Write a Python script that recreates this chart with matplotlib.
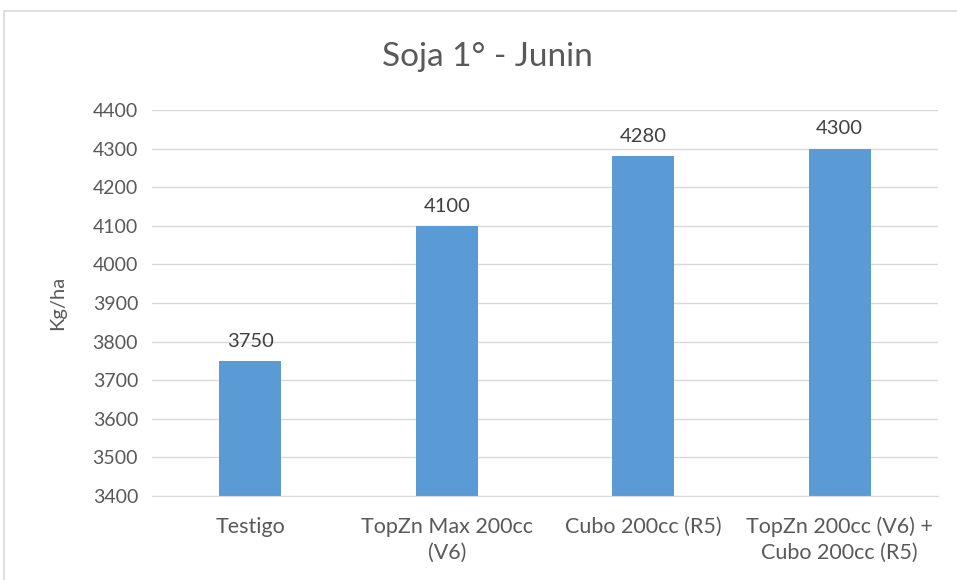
import matplotlib
matplotlib.use("Agg")
import matplotlib.pyplot as plt
from matplotlib.patches import Rectangle

categories = ["Testigo", "TopZn Max 200cc\n(V6)", "Cubo 200cc (R5)", "TopZn 200cc (V6) +\nCubo 200cc (R5)"]
values = [3750, 4100, 4280, 4300]
yticks = [3400, 3500, 3600, 3700, 3800, 3900, 4000, 4100, 4200, 4300, 4400]
title = "Soja 1° - Junin"
ylabel = "Kg/ha"

plt.rcParams['font.family'] = ['Lato', 'DejaVu Sans']
txt = '#595959'
W, H = 957, 580
fig = plt.figure(figsize=(W/100, H/100), dpi=100)
fig.patches.append(Rectangle((4/W, -0.1), 1.2, 1 - 11/H + 0.1, transform=fig.transFigure,
                             fill=False, edgecolor='#d9d9d9', linewidth=1.2))
ax = fig.add_axes([152/W, 1 - 496/H, (938-152)/W, (496-110)/H])
x = range(len(categories))
ax.bar(x, values, width=0.315, color='#5B9BD5', zorder=3)
ax.set_xlim(-0.5, len(categories) - 0.5)
ax.set_ylim(3400, 4400)
ax.set_yticks(yticks)
ax.set_yticklabels([str(v) for v in yticks], fontsize=14, color=txt)
ax.set_xticks(list(x))
ax.set_xticklabels(categories, fontsize=15.5, color=txt, linespacing=1.35)
ax.tick_params(axis='both', length=0, pad=10)
ax.tick_params(axis='x', pad=15)
ax.grid(axis='y', color='#d9d9d9', linewidth=1.0, zorder=0)
for s in ['top', 'right', 'left']:
    ax.spines[s].set_visible(False)
ax.spines['bottom'].set_color('#d9d9d9')
ax.spines['bottom'].set_zorder(4)
for xi, v in zip(x, values):
    ax.annotate(str(v), (xi, v), xytext=(0, 8), textcoords='offset points',
                ha='center', va='bottom', fontsize=14.5, color='#404040')
ax.set_ylabel(ylabel, fontsize=14.5, color=txt, labelpad=19)
fig.text(487.5 / W, 1 - 57/H, title, ha='center', va='center', fontsize=24, color=txt)
fig.savefig("out.png", dpi=100)
